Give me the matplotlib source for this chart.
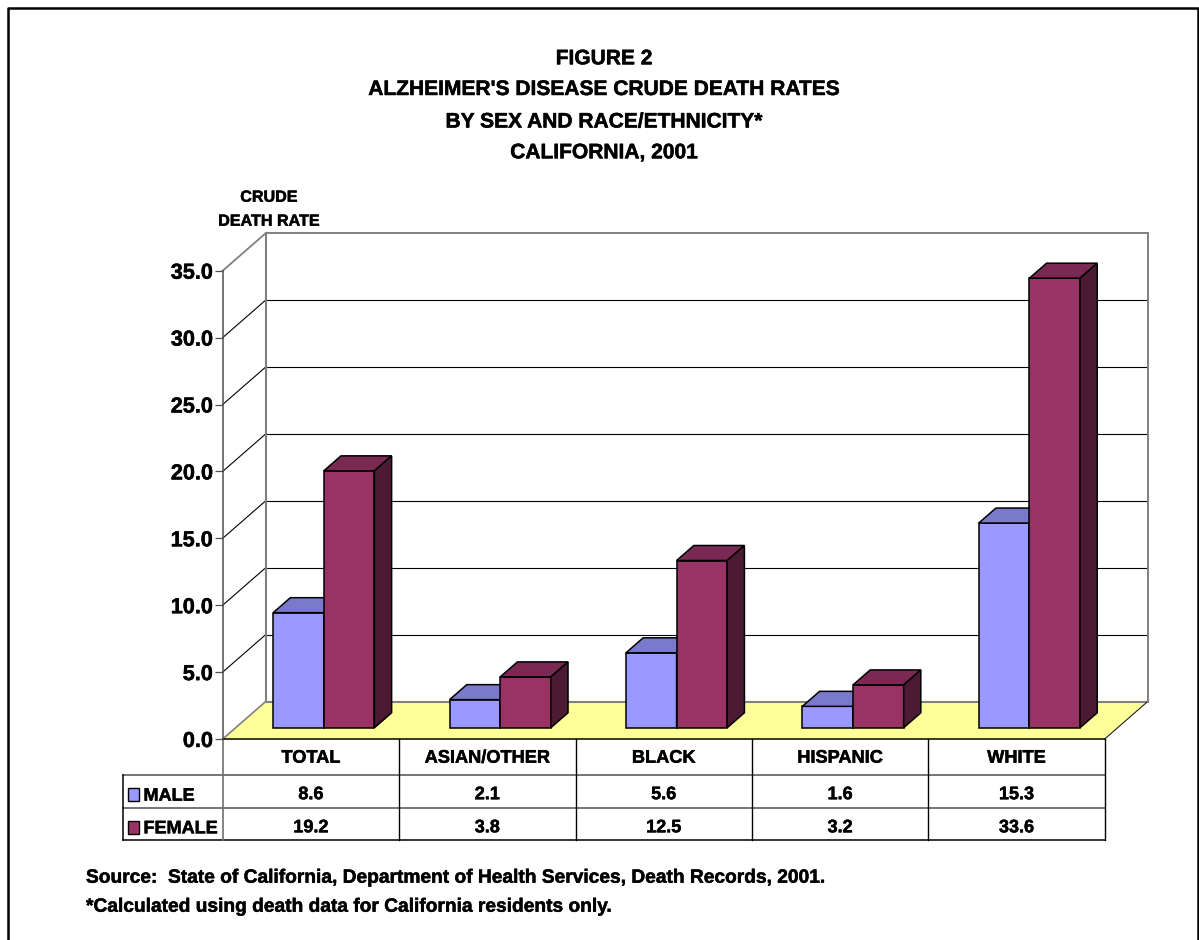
import matplotlib
matplotlib.use("Agg")
import matplotlib.pyplot as plt
import matplotlib.patheffects as pe
from matplotlib.patches import Polygon, Rectangle

plt.rcParams['font.family'] = ['Liberation Sans', 'DejaVu Sans']
plt.rcParams['font.weight'] = 'bold'

# Data
categories = ['TOTAL', 'ASIAN/OTHER', 'BLACK', 'HISPANIC', 'WHITE']
male = [8.6, 2.1, 5.6, 1.6, 15.3]
female = [19.2, 3.8, 12.5, 3.2, 33.6]
y_ticks = [0, 5, 10, 15, 20, 25, 30, 35]
title_lines = ['FIGURE 2', "ALZHEIMER'S DISEASE CRUDE DEATH RATES",
               'BY SEX AND RACE/ETHNICITY*', 'CALIFORNIA, 2001']
footnotes = ['Source:  State of California, Department of Health Services, Death Records, 2001.',
             '*Calculated using death data for California residents only.']

# Colours: front, top, side
MALE_COLORS = ('#9999FF', '#7A7ACC', '#4D4D80')
FEMALE_COLORS = ('#993366', '#7A2952', '#4D1A33')
FLOOR = '#FFFF99'
WALL = '#808080'

# thin outline thickens the bold face a little
HEAVY = [pe.withStroke(linewidth=0.35, foreground='black')]

W, H = 1199, 940
fig = plt.figure(figsize=(W / 100, H / 100), dpi=100, facecolor='white')

# Page layer in pixel coordinates
page = fig.add_axes([0, 0, 1, 1])
page.set_xlim(0, W)
page.set_ylim(H, 0)
page.axis('off')


def label(x, y, text, size, ha='center'):
    page.text(x, y, text, ha=ha, va='baseline', fontsize=size, path_effects=HEAVY)


# Chart layer: x in categories, y in rate units
LEFT, RIGHT, ZERO_Y, TOP_Y = 222.7, 1104.7, 739.0, 270.7
ax = fig.add_axes([LEFT / W, 1 - ZERO_Y / H, (RIGHT - LEFT) / W, (ZERO_Y - TOP_Y) / H])
ax.set_xlim(0, len(categories))
ax.set_ylim(0, 35)
ax.patch.set_visible(False)
for name in ['top', 'right', 'bottom']:
    ax.spines[name].set_visible(False)
ax.spines['left'].set_color('#505050')
ax.spines['left'].set_linewidth(1.1)
ax.set_xticks([])
ax.set_yticks(y_ticks)
ax.set_yticklabels([f'{t:.1f}' for t in y_ticks], fontsize=15.6, fontweight='bold',
                   path_effects=HEAVY)
ax.tick_params(axis='y', length=5.5, width=0.9, color='#505050', pad=1.5)

DX = 43 / 176.4   # depth offset, categories
DY = 37.5 / 13.38  # depth offset, rate units


def proj(x, y, depth):
    return (x + depth * DX, y + depth * DY)


def edge(a, b, color, lw, z=2):
    ax.plot(*zip(a, b), color=color, lw=lw, clip_on=False, zorder=z)


n = len(categories)
# floor
ax.add_patch(Polygon([proj(0, 0, 0), proj(n, 0, 0), proj(n, 0, 1), proj(0, 0, 1)],
                     facecolor=FLOOR, edgecolor='none', clip_on=False, zorder=1))
edge(proj(0, 0, 1), proj(n, 0, 1), WALL, 1.5)
edge(proj(0, 0, 0), proj(0, 0, 1), WALL, 1.2)
edge(proj(n, 0, 0), proj(n, 0, 1), '#202020', 0.8)
edge((0, 0), (n, 0), 'black', 1.1)

# back wall gridlines and their diagonals
for t in y_ticks[1:-1]:
    edge(proj(0, t, 0), proj(0, t, 1), 'black', 0.8)
    edge(proj(0, t, 1), proj(n, t, 1), 'black', 0.8)
edge(proj(0, 35, 0), proj(0, 35, 1), WALL, 1.3)
edge(proj(0, 35, 1), proj(n, 35, 1), WALL, 1.4)
edge(proj(n, 35, 1), proj(n, 0, 1), WALL, 1.4)
edge(proj(0, 0, 1), proj(0, 35, 1), WALL, 1.5)


def draw_bar(x0, x1, value, colors, z):
    d0, d1 = 0.3, 0.7
    front = [proj(x0, 0, d0), proj(x1, 0, d0), proj(x1, value, d0), proj(x0, value, d0)]
    top = [proj(x0, value, d0), proj(x1, value, d0), proj(x1, value, d1), proj(x0, value, d1)]
    side = [proj(x1, 0, d0), proj(x1, 0, d1), proj(x1, value, d1), proj(x1, value, d0)]
    for verts, color in zip((front, top, side), colors):
        ax.add_patch(Polygon(verts, facecolor=color, edgecolor='black', lw=1.1,
                             joinstyle='miter', clip_on=False, zorder=z))


# bars
BAR_W = 0.287
for i in range(n):
    mid = i + 0.5
    draw_bar(mid - BAR_W, mid, male[i], MALE_COLORS, 3)
    draw_bar(mid, mid + BAR_W, female[i], FEMALE_COLORS, 4)

# titles
for y, line in zip([64.3, 95, 127.5, 158.3], title_lines):
    label(604, y, line, 15.1)
label(269, 201.7, 'CRUDE', 11.6)
label(269, 225.7, 'DEATH RATE', 11.6)

# data table
ROWS = [739, 775, 807.7, 840]
TABLE_L = 123.3
COL_W = (RIGHT - LEFT) / n
page.plot([TABLE_L, RIGHT], [ROWS[1], ROWS[1]], color='#505050', lw=1.1)
page.plot([TABLE_L, RIGHT], [ROWS[2], ROWS[2]], color='#505050', lw=1.1)
page.plot([TABLE_L, RIGHT], [ROWS[3], ROWS[3]], color='black', lw=1.1)
page.plot([TABLE_L, TABLE_L], [ROWS[1], ROWS[3]], color='black', lw=1.1)
page.plot([LEFT, LEFT], [ROWS[0], ROWS[3]], color='#707070', lw=1.2)
for i in range(1, n + 1):
    page.plot([LEFT + i * COL_W] * 2, [ROWS[0], ROWS[3]], color='black', lw=1.0)

for i in range(n):
    cx = LEFT + (i + 0.5) * COL_W
    label(cx, 762.7, categories[i], 13.1)
    label(cx, 799.2, f'{male[i]:.1f}', 13)
    label(cx, 832.3, f'{female[i]:.1f}', 13)

# legend keys in the table
for y, base, text, colors in [(787.5, 800.7, 'MALE', MALE_COLORS),
                              (820.5, 833.3, 'FEMALE', FEMALE_COLORS)]:
    page.add_patch(Rectangle((128.3, y), 11, 13, facecolor=colors[0], edgecolor='black', lw=1.0))
    label(143.5, base, text, 13, ha='left')

# footnotes
label(86, 882.7, footnotes[0], 13.8, ha='left')
label(86, 911.7, footnotes[1], 13.8, ha='left')

# page border
page.plot([8, 8, 1198, 1198], [H, 8, 8, H], color='black', lw=1.8, clip_on=False)

fig.savefig('out.png', dpi=100, facecolor='white')
